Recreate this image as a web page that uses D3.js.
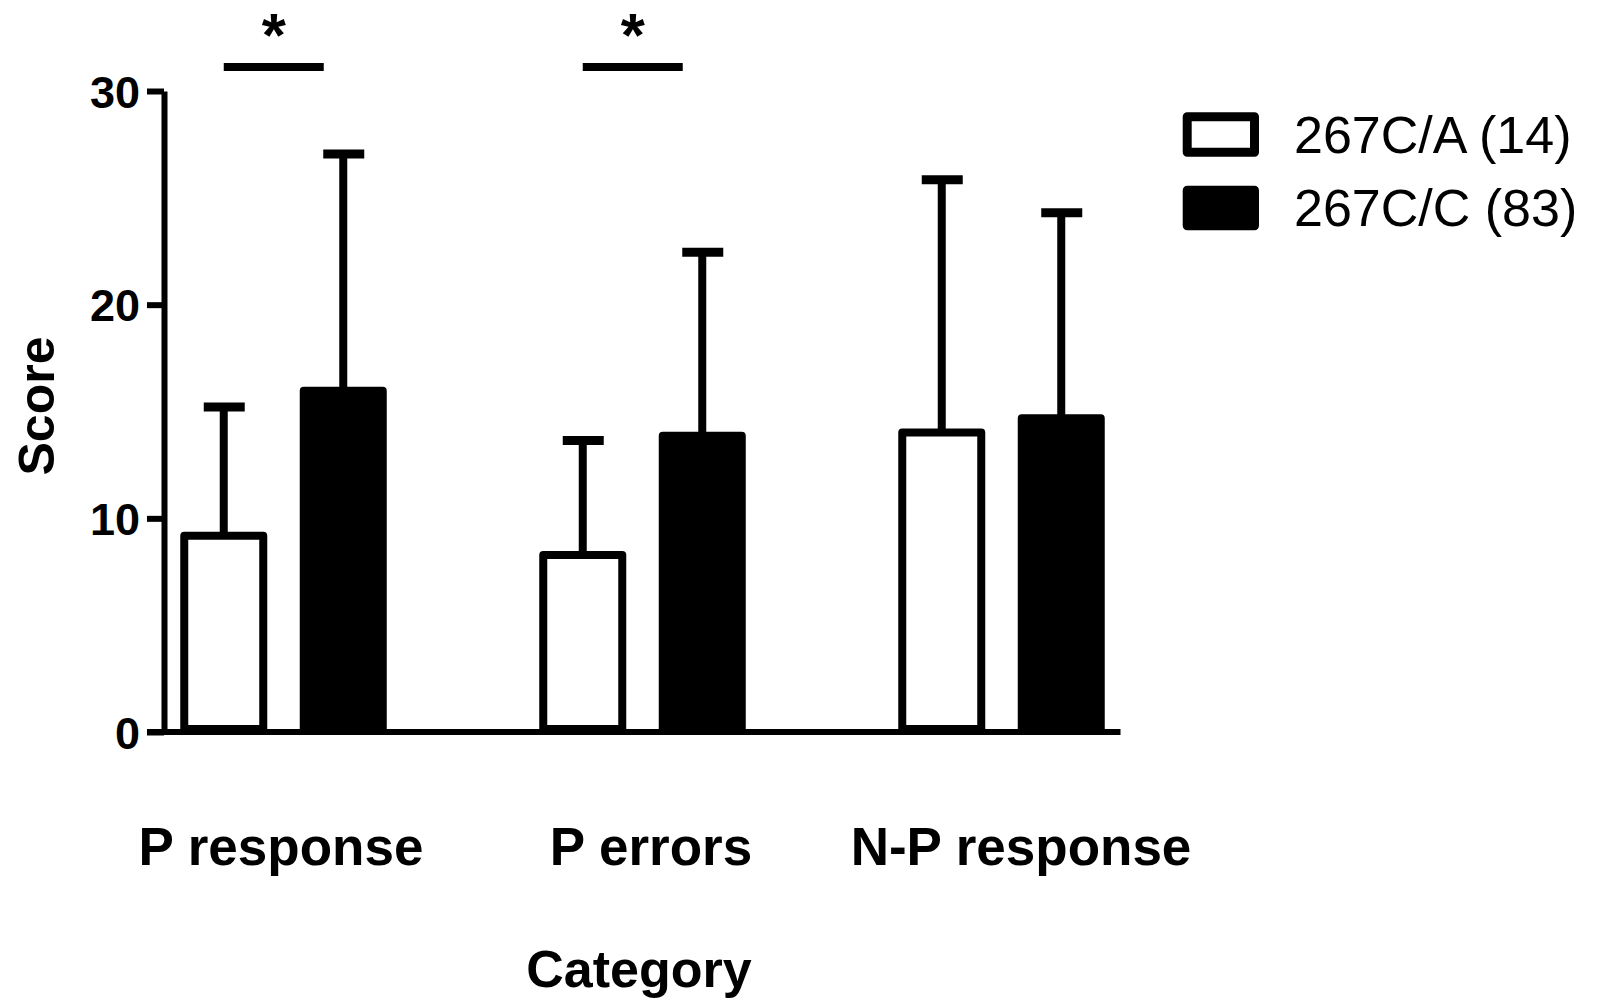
<!DOCTYPE html>
<html>
<head>
<meta charset="utf-8">
<script src="https://cdn.jsdelivr.net/npm/d3@7"></script>
<style>
  body { margin: 0; background: #fff; }
  svg { display: block; font-family: "Liberation Sans", Arial, sans-serif; }
</style>
</head>
<body>
<div id="chart"></div>
<script>
var categories = ["P response", "P errors", "N-P response"];
var series = ["267C/A (14)", "267C/C (83)"];
var meansCA = [9.19, 8.28, 14.02];
var sdCA = [6.02, 5.36, 11.83];
var meansCC = [15.97, 13.87, 14.68];
var sdCC = [11.08, 8.58, 9.62];
var yTicks = [0, 10, 20, 30];
var sigGroups = ["P response", "P errors"];

var W = 1598, H = 1001;
var svg = d3.select("#chart").append("svg")
  .attr("width", W).attr("height", H);

var y = d3.scaleLinear().domain([0, 30]).range([732, 91]);
var x0 = d3.scalePoint().domain(categories).range([283.5, 1001.5]);
var x1 = d3.scalePoint().domain(series).range([-59.75, 59.75]);
var xLabel = d3.scalePoint().domain(categories).range([281, 1021]);
var barW = 79;

var rows = [];
categories.forEach(function(c, i){
  rows.push({cat: c, ser: series[0], m: meansCA[i], sd: sdCA[i], fill: "#fff"});
  rows.push({cat: c, ser: series[1], m: meansCC[i], sd: sdCC[i], fill: "#000"});
});

// x axis line
svg.append("line")
  .attr("x1", 147).attr("x2", 1120.5)
  .attr("y1", y(0)).attr("y2", y(0))
  .style("stroke", "#000").style("stroke-width", 6);

// y axis
var yAxis = svg.append("g")
  .attr("transform", "translate(164,0)")
  .call(d3.axisLeft(y).tickValues(yTicks).tickSize(17).tickSizeOuter(0).tickPadding(7));
yAxis.select(".domain").style("stroke-width", 6);
yAxis.selectAll(".tick line").style("stroke-width", 6);
yAxis.selectAll(".tick text")
  .style("font-size", "45px").style("font-weight", "bold")
  .style("font-family", "'Liberation Sans', Arial, sans-serif")
  .attr("dy", "0.36em");

// error bars
var eb = svg.append("g");
rows.forEach(function(d){
  var cx = x0(d.cat) + x1(d.ser);
  eb.append("line")
    .attr("x1", cx).attr("x2", cx)
    .attr("y1", y(d.m)).attr("y2", y(d.m + d.sd))
    .style("stroke", "#000").style("stroke-width", 8);
  eb.append("line")
    .attr("x1", cx - 20).attr("x2", cx + 21)
    .attr("y1", y(d.m + d.sd)).attr("y2", y(d.m + d.sd))
    .style("stroke", "#000").style("stroke-width", 9)
    .style("stroke-linecap", "butt");
});

// bars
svg.append("g").selectAll("rect")
  .data(rows).enter().append("rect")
  .attr("x", function(d){ return x0(d.cat) + x1(d.ser) - barW / 2; })
  .attr("y", function(d){ return y(d.m); })
  .attr("width", barW)
  .attr("height", function(d){ return y(0) - y(d.m) - 3; })
  .style("fill", function(d){ return d.fill; })
  .style("stroke", "#000")
  .style("stroke-width", 8)
  .style("stroke-linejoin", "round");

// significance marks
sigGroups.forEach(function(c){
  var xs = x0(c) + x1(series[0]);
  svg.append("line")
    .attr("x1", xs).attr("x2", xs + 100)
    .attr("y1", 67).attr("y2", 67)
    .style("stroke", "#000").style("stroke-width", 8);
  svg.append("text")
    .attr("x", xs + 50).attr("y", 56)
    .attr("text-anchor", "middle")
    .style("font-size", "62px").style("font-weight", "bold")
    .text("*");
});

// category labels
svg.append("g").selectAll("text")
  .data(categories).enter().append("text")
  .attr("x", function(d){ return xLabel(d); })
  .attr("y", 865)
  .attr("text-anchor", "middle")
  .style("font-size", "53px").style("font-weight", "bold")
  .text(function(d){ return d; });

svg.append("text")
  .attr("x", 639).attr("y", 987)
  .attr("text-anchor", "middle")
  .style("font-size", "52px").style("font-weight", "bold")
  .text("Category");

svg.append("text")
  .attr("transform", "translate(54,406) rotate(-90)")
  .attr("text-anchor", "middle")
  .style("font-size", "50px").style("font-weight", "bold")
  .text("Score");

// legend
var fills = ["#fff", "#000"];
var lg = svg.append("g");
series.forEach(function(s, i){
  var yy = 116.8 + i * 73.5;
  lg.append("rect")
    .attr("x", 1187.2).attr("y", yy)
    .attr("width", 67.3).attr("height", 35.4)
    .style("fill", fills[i]).style("stroke", "#000")
    .style("stroke-width", 9).style("stroke-linejoin", "round");
  lg.append("text")
    .attr("x", 1294).attr("y", 153 + i * 73)
    .style("font-size", "52px")
    .text(s);
});
</script>
</body>
</html>
